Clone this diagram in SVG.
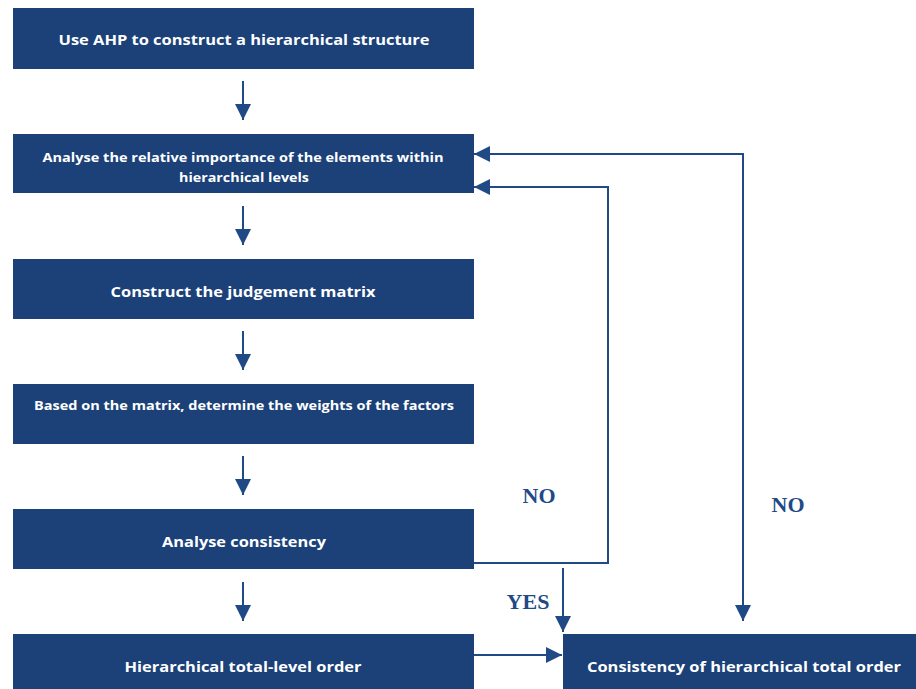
<svg xmlns="http://www.w3.org/2000/svg" width="916" height="689" viewBox="0 0 916 689">
<style>
.box{fill:#1b4178;}
.t{fill:#ffffff;font-family:"Open Sans","Liberation Sans",sans-serif;font-weight:bold;text-anchor:middle;}
.c{fill:none;stroke:#1f4a86;stroke-width:2;}
.lbl{fill:#1f4a86;font-family:"Liberation Serif",serif;font-weight:bold;font-size:22px;text-anchor:middle;}
</style>
<defs>
<marker id="ah" markerUnits="userSpaceOnUse" markerWidth="16" markerHeight="16" viewBox="0 0 14 14" refX="14" refY="7" orient="auto">
<path d="M0,0 L14,7 L0,14 Z" fill="#1f4a86"/>
</marker>
</defs>
<rect width="916" height="689" fill="#ffffff"/>
<g id="n1"><rect class="box" x="13" y="8" width="461" height="61"/><text class="t" x="244" y="45" font-size="15" textLength="371" lengthAdjust="spacingAndGlyphs">Use AHP to construct a hierarchical structure</text></g>
<g id="n2"><rect class="box" x="13" y="134" width="461" height="59"/><text class="t" x="243" y="162" font-size="13" textLength="401" lengthAdjust="spacingAndGlyphs">Analyse the relative importance of the elements within</text><text class="t" x="244" y="182" font-size="13" textLength="130" lengthAdjust="spacingAndGlyphs">hierarchical levels</text></g>
<g id="n3"><rect class="box" x="13" y="259" width="461" height="60"/><text class="t" x="243" y="297" font-size="15" textLength="265" lengthAdjust="spacingAndGlyphs">Construct the judgement matrix</text></g>
<g id="n4"><rect class="box" x="13" y="384" width="461" height="60"/><text class="t" x="244" y="410" font-size="13" textLength="420" lengthAdjust="spacingAndGlyphs">Based on the matrix, determine the weights of the factors</text></g>
<g id="n5"><rect class="box" x="13" y="509" width="461" height="60"/><text class="t" x="244" y="547" font-size="15" textLength="164" lengthAdjust="spacingAndGlyphs">Analyse consistency</text></g>
<g id="n6"><rect class="box" x="13" y="634" width="461" height="55"/><text class="t" x="243" y="672" font-size="15" textLength="237" lengthAdjust="spacingAndGlyphs">Hierarchical total-level order</text></g>
<g id="n7"><rect class="box" x="563" y="634" width="353" height="55"/><text class="t" x="744" y="672" font-size="15" textLength="314" lengthAdjust="spacingAndGlyphs">Consistency of hierarchical total order</text></g>
<g id="connectors">
<line class="c" x1="243" y1="81" x2="243" y2="120" marker-end="url(#ah)"/>
<line class="c" x1="243" y1="206" x2="243" y2="245" marker-end="url(#ah)"/>
<line class="c" x1="243" y1="331" x2="243" y2="370" marker-end="url(#ah)"/>
<line class="c" x1="243" y1="456" x2="243" y2="495" marker-end="url(#ah)"/>
<line class="c" x1="243" y1="582" x2="243" y2="621" marker-end="url(#ah)"/>
<polyline class="c" points="474,563 608,563 608,187 474,187" marker-end="url(#ah)"/>
<polyline class="c" points="743,154 474,154" marker-end="url(#ah)"/>
<line class="c" x1="743" y1="153" x2="743" y2="621" marker-end="url(#ah)"/>
<line class="c" x1="563" y1="568" x2="563" y2="632" marker-end="url(#ah)"/>
<line class="c" x1="474" y1="655" x2="562" y2="655" marker-end="url(#ah)"/>
</g>
<text class="lbl" x="539" y="503">NO</text>
<text class="lbl" x="788" y="512">NO</text>
<text class="lbl" x="528" y="609">YES</text>
</svg>
